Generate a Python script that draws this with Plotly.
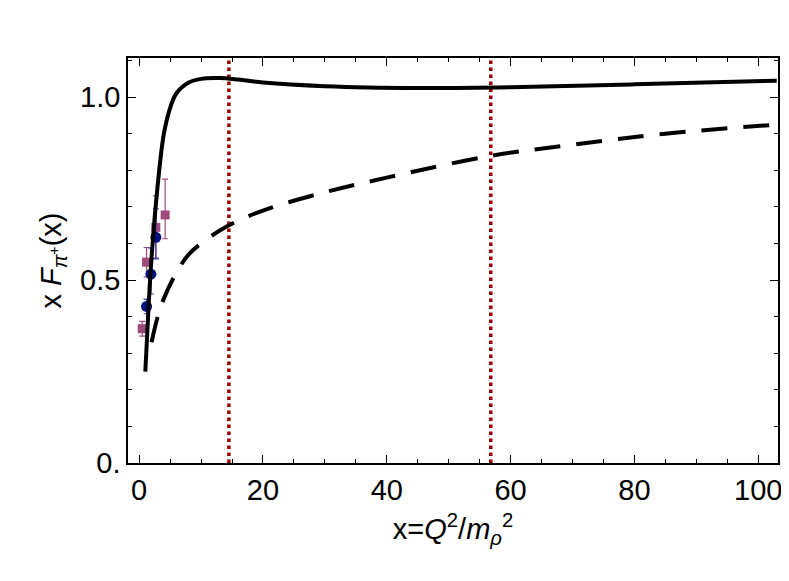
import plotly.graph_objects as go

solid_x = [1, 1.5, 2, 3, 4, 5, 6, 8, 10, 13, 16, 20, 30, 45, 60, 80, 103]
solid_y = [0.25, 0.42, 0.56, 0.76, 0.90, 0.97, 1.01, 1.04, 1.05, 1.052, 1.048, 1.04, 1.03, 1.025, 1.027, 1.035, 1.045]
dash_x = [2, 3, 4, 6, 8, 10, 14, 20, 30, 40, 57, 70, 85, 103]
dash_y = [0.33, 0.40, 0.45, 0.52, 0.57, 0.60, 0.645, 0.69, 0.74, 0.78, 0.84, 0.87, 0.90, 0.925]
sq_x = [0.5, 1.2, 2.7, 4.2]
sq_y = [0.367, 0.549, 0.644, 0.678]
sq_hi = [0.02, 0.04, 0.086, 0.098]
sq_lo = [0.02, 0.04, 0.084, 0.065]
ci_x = [1.2, 1.9, 2.7]
ci_y = [0.428, 0.516, 0.617]
ci_hi = [0.02, 0.072, 0.078]
ci_lo = [0.02, 0.054, 0.059]
vlines = [14.5, 56.8]

fig = go.Figure()
for v in vlines:
    fig.add_trace(go.Scatter(x=[v, v], y=[0, 1.12], mode="lines",
                             line=dict(color="#990000", width=3.5, dash="dot")))
fig.add_trace(go.Scatter(x=dash_x, y=dash_y, mode="lines",
                         line=dict(color="black", width=4, dash="26px,16px", shape="spline")))
fig.add_trace(go.Scatter(x=sq_x, y=sq_y, mode="markers",
                         marker=dict(symbol="square", size=9, color="#a04a7c"),
                         error_y=dict(type="data", array=sq_hi, arrayminus=sq_lo, color="#a04a7c", width=3, thickness=1.2)))
fig.add_trace(go.Scatter(x=ci_x, y=ci_y, mode="markers",
                         marker=dict(symbol="circle", size=11, color="#00137f"),
                         error_y=dict(type="data", array=ci_hi, arrayminus=ci_lo, color="#3040b0", width=3, thickness=1.2)))
fig.add_trace(go.Scatter(x=solid_x, y=solid_y, mode="lines", line=dict(color="black", width=4, shape="spline")))

ax = dict(showline=True, linecolor="black", linewidth=1.5, mirror="allticks", ticks="inside",
          ticklen=8, tickcolor="black", showgrid=False, zeroline=False,
          tickfont=dict(size=29, color="black"),
          minor=dict(ticks="inside", ticklen=4, tickcolor="black"))
fig.update_layout(
    width=789, height=581, plot_bgcolor="white", paper_bgcolor="white", showlegend=False,
    font=dict(family="Liberation Sans, Arial", color="black", size=29),
    margin=dict(l=120, r=19, t=50, b=126),
    xaxis=dict(ax, range=[-1.8, 103.2], tickvals=[0, 20, 40, 60, 80, 100], minor=dict(ax["minor"], dtick=5),
               title=dict(text="x=<i>Q</i><sup>2</sup>/<i>m</i><sub><i>ρ</i></sub><sup>2</sup>", font=dict(size=29), standoff=14)),
    yaxis=dict(ax, range=[0, 1.107], tickvals=[0, 0.5, 1.0], ticktext=["0.", "0.5", "1.0"], minor=dict(ax["minor"], dtick=0.1),
               title=dict(text="x <i>F</i><sub><i>π</i><sup>+</sup></sub>(x)", font=dict(size=29), standoff=10)),
)
fig.write_html("out.html")
